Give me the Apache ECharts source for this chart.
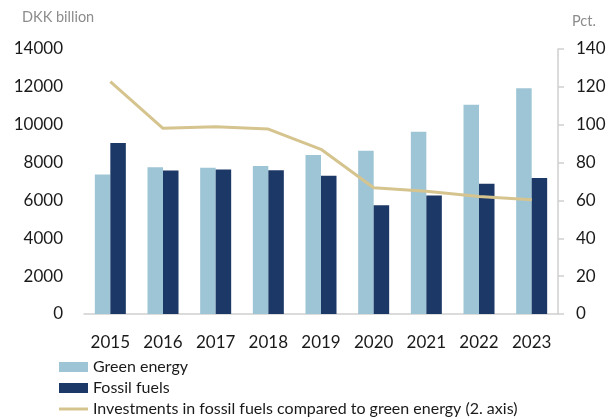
<!DOCTYPE html>
<html>
<head>
<meta charset="utf-8">
<script src="https://cdn.jsdelivr.net/npm/echarts@6/dist/echarts.min.js"></script>
<style>
  html, body { margin: 0; padding: 0; background: #ffffff; }
  #chart { width: 609px; height: 419px; }
</style>
</head>
<body>
<div id="chart"></div>
<script>
// Annual investments, DKK billion, and fossil-to-green ratio in pct.
const years = ['2015', '2016', '2017', '2018', '2019', '2020', '2021', '2022', '2023'];
const greenEnergy = [7370, 7750, 7720, 7820, 8400, 8630, 9630, 11050, 11930];
const fossilFuels = [9040, 7580, 7630, 7600, 7300, 5740, 6260, 6880, 7180];
const fossilVsGreen = [122.8, 98.1, 98.9, 97.7, 87.0, 66.7, 64.9, 62.1, 60.4];

const leftTicks = { min: 0, max: 14000, interval: 2000 };
const rightTicks = { min: 0, max: 140, interval: 20 };

const FONT = 'Lato, "Noto Sans", sans-serif';
const GREEN = '#9ec5d5';
const NAVY = '#1c3867';
const GOLD = '#d6c48f';

const plain = v => String(v);
// thin horizontal stroke centred in a 29x10 legend box
const LINE_ICON = 'path://M0,0M0,3.5H29V6.5H0ZM29,10';

const chart = echarts.init(document.getElementById('chart'), null, { renderer: 'canvas' });

chart.setOption({
  animation: false,
  backgroundColor: '#ffffff',
  textStyle: { fontFamily: FONT },
  grid: { left: 84, right: 51, top: 49, bottom: 105, containLabel: false },
  graphic: [
    {
      type: 'text', left: 22, top: 10,
      style: { text: 'DKK billion', fill: '#8c8c8c', font: '14.5px ' + FONT }
    },
    {
      type: 'text', left: 572, top: 14,
      style: { text: 'Pct.', fill: '#8c8c8c', font: '14.5px ' + FONT }
    }
  ],
  legend: {
    orient: 'vertical',
    left: 59,
    top: 357,
    padding: 0,
    itemGap: 1,
    itemWidth: 29,
    itemHeight: 10,
    textStyle: { fontSize: 16, color: '#1a1a1a', lineHeight: 20, fontFamily: FONT },
    data: [
      { name: 'Green energy', icon: 'rect' },
      { name: 'Fossil fuels', icon: 'rect' },
      { name: 'Investments in fossil fuels compared to green energy (2. axis)', icon: LINE_ICON }
    ]
  },
  xAxis: {
    type: 'category',
    data: years,
    axisLine: { show: true, lineStyle: { color: '#cfcfcf', width: 1.5 } },
    axisTick: { show: false },
    axisLabel: { color: '#1a1a1a', fontSize: 17, margin: 20, fontFamily: FONT },
    splitLine: { show: false }
  },
  yAxis: [
    {
      type: 'value',
      min: leftTicks.min, max: leftTicks.max, interval: leftTicks.interval,
      axisLine: { show: false },
      axisTick: { show: false },
      splitLine: { show: false },
      axisLabel: { color: '#1a1a1a', fontSize: 17, margin: 21, fontFamily: FONT, formatter: plain }
    },
    {
      type: 'value',
      position: 'right',
      min: rightTicks.min, max: rightTicks.max, interval: rightTicks.interval,
      axisLine: { show: true, lineStyle: { color: '#cfcfcf', width: 1.5 } },
      axisTick: { show: true, length: 6, lineStyle: { color: '#cfcfcf', width: 1.5 } },
      splitLine: { show: false },
      axisLabel: { color: '#1a1a1a', fontSize: 17, margin: 18, fontFamily: FONT, formatter: plain }
    }
  ],
  series: [
    {
      name: 'Green energy',
      type: 'bar',
      yAxisIndex: 0,
      data: greenEnergy,
      barWidth: 15.5,
      barGap: '0%',
      itemStyle: { color: GREEN }
    },
    {
      name: 'Fossil fuels',
      type: 'bar',
      yAxisIndex: 0,
      data: fossilFuels,
      barWidth: 15.5,
      barGap: '0%',
      itemStyle: { color: NAVY }
    },
    {
      name: 'Investments in fossil fuels compared to green energy (2. axis)',
      type: 'line',
      yAxisIndex: 1,
      data: fossilVsGreen,
      symbol: 'none',
      smooth: false,
      lineStyle: { color: GOLD, width: 3 },
      itemStyle: { color: GOLD },
      z: 5
    }
  ]
});
</script>
</body>
</html>
